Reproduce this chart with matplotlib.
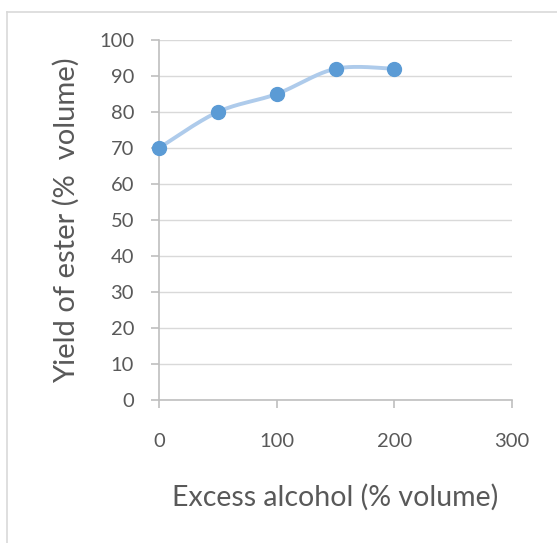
import numpy as np
import matplotlib
matplotlib.use("Agg")
import matplotlib.pyplot as plt
from matplotlib.lines import Line2D

excess_alcohol = [0, 50, 100, 150, 200]
ester_yield = [70, 80, 85, 92, 92]
x_ticks = [0, 100, 200, 300]
y_ticks = [0, 10, 20, 30, 40, 50, 60, 70, 80, 90, 100]

TEXT = "#595959"
plt.rcParams["font.family"] = ["Lato", "DejaVu Sans"]


def smooth_curve(x, y, n=40):
    """Catmull-Rom style Bezier smoothing through every point."""
    x = np.asarray(x, float)
    y = np.asarray(y, float)
    px = np.concatenate([[x[0]], x, [x[-1]]])
    py = np.concatenate([[y[0]], y, [y[-1]]])
    xs, ys = [], []
    t = np.linspace(0, 1, n)
    for i in range(len(x) - 1):
        p0 = np.array([px[i + 1], py[i + 1]])
        p3 = np.array([px[i + 2], py[i + 2]])
        p1 = p0 + (np.array([px[i + 2], py[i + 2]]) - np.array([px[i], py[i]])) / 6
        p2 = p3 - (np.array([px[i + 3], py[i + 3]]) - np.array([px[i + 1], py[i + 1]])) / 6
        b = ((1 - t) ** 3)[:, None] * p0 + (3 * (1 - t) ** 2 * t)[:, None] * p1 \
            + (3 * (1 - t) * t ** 2)[:, None] * p2 + (t ** 3)[:, None] * p3
        xs.append(b[:, 0])
        ys.append(b[:, 1])
    return np.concatenate(xs), np.concatenate(ys)


fig = plt.figure(figsize=(5.57, 5.43), dpi=100)
ax = fig.add_axes([0.2855, 0.2634, 0.6338, 0.663])

# chart frame
fig.add_artist(Line2D([7 / 557, 7 / 557], [0, 1 - 12 / 543], transform=fig.transFigure,
                      color="#d9d9d9", lw=1.2))
fig.add_artist(Line2D([7 / 557, 1], [1 - 12 / 543, 1 - 12 / 543], transform=fig.transFigure,
                      color="#d9d9d9", lw=1.2))

sx, sy = smooth_curve(excess_alcohol, ester_yield)
ax.plot(sx, sy, color="#aecbeb", lw=2.8, solid_capstyle="round", zorder=3)
ax.plot(excess_alcohol, ester_yield, "o", color="#5b9bd5", ms=10, mec="#5b9bd5", zorder=4,
        clip_on=False)

ax.set_xlim(0, 300)
ax.set_ylim(0, 100)
ax.set_xticks(x_ticks)
ax.set_yticks(y_ticks)
ax.grid(axis="y", color="#d9d9d9", lw=1)
ax.set_axisbelow(True)

for s in ["top", "right"]:
    ax.spines[s].set_visible(False)
for s in ["left", "bottom"]:
    ax.spines[s].set_color("#bfbfbf")
    ax.spines[s].set_linewidth(1.2)

ax.tick_params(axis="both", direction="out", length=6, width=1.2, color="#bfbfbf",
               labelcolor=TEXT, labelsize=14.5)
ax.tick_params(axis="y", pad=12)
ax.tick_params(axis="x", pad=18)

ax.set_xlabel("Excess alcohol (% volume)", fontsize=20.5, color=TEXT, labelpad=24)
ax.set_ylabel("Yield of ester (%  volume)", fontsize=21, color=TEXT, labelpad=14)

fig.savefig("out.png", dpi=100)
